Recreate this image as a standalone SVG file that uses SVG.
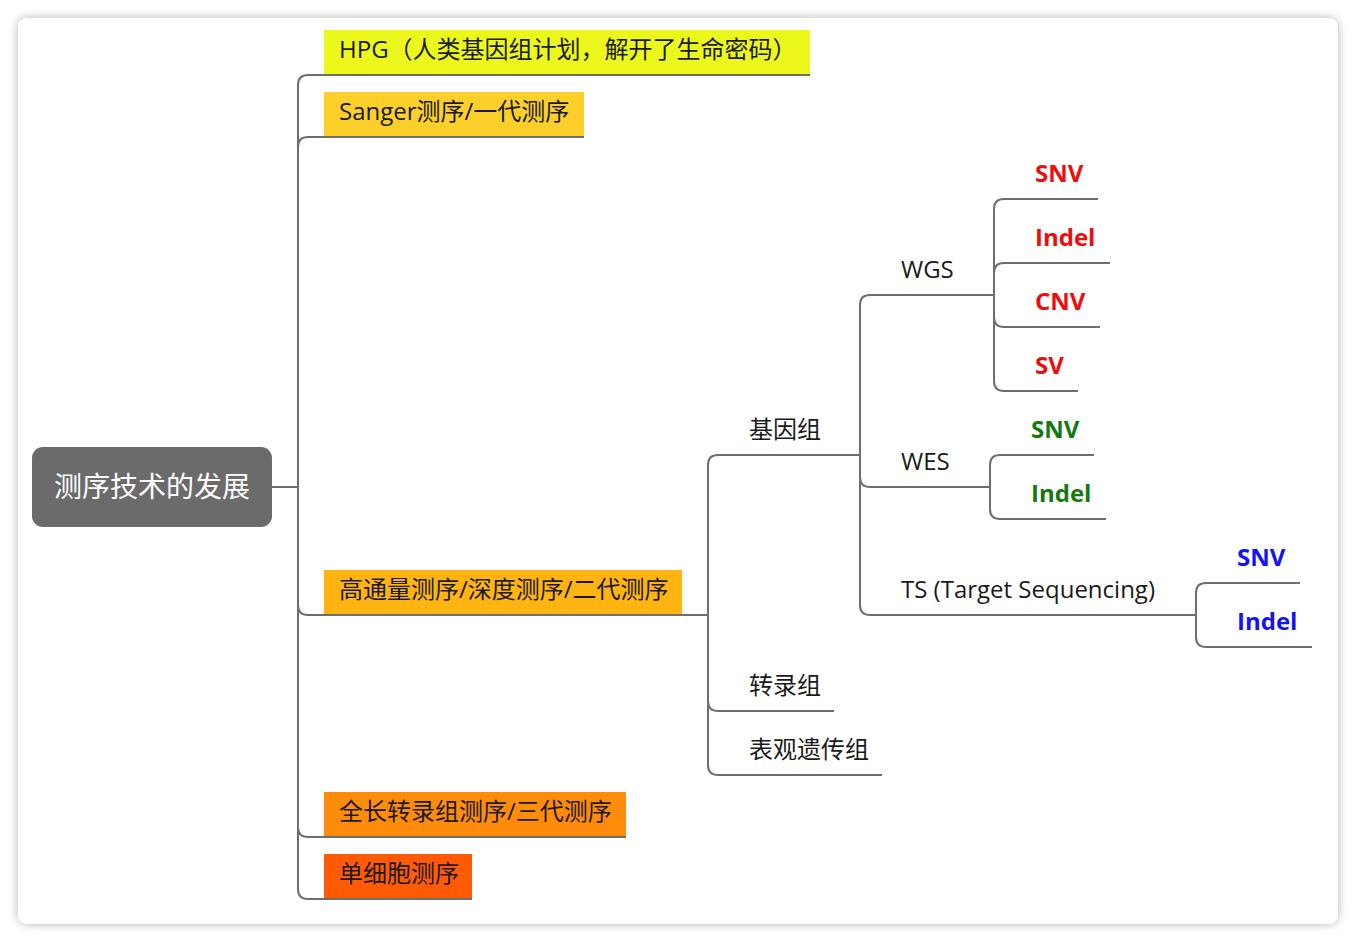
<svg xmlns="http://www.w3.org/2000/svg" width="1356" height="942" viewBox="0 0 1356 942">
<style>
text{font-family:"Open Sans","Noto Sans CJK SC",sans-serif;font-size:24px;fill:#1a1a1a}
.b{font-weight:bold}
.red{fill:#f00c0c}
.grn{fill:#137a10}
.blu{fill:#1212f5}
.root{fill:#ffffff;font-size:28px;text-anchor:middle}
.c{fill:none;stroke:#6e6e6e;stroke-width:2}
</style>
<defs>
<filter id="sh" x="-5%" y="-5%" width="110%" height="110%">
<feDropShadow dx="0" dy="0" stdDeviation="5" flood-color="#000" flood-opacity="0.3"/>
</filter>
</defs>
<rect width="1356" height="942" fill="#ffffff"/>
<rect x="18" y="18" width="1320" height="906" rx="9" fill="#ffffff" filter="url(#sh)"/>

<g id="root">
<rect x="32" y="447" width="240" height="80" rx="11" fill="#6b6b6b"/>
<text class="root" x="152" y="497">测序技术的发展</text>
</g>

<g id="n-hpg"><rect x="324" y="30" width="486" height="44" fill="#ecf71c"/><text x="339" y="58">HPG（人类基因组计划，解开了生命密码）</text></g>
<g id="n-sanger"><rect x="324" y="92" width="260" height="44" fill="#fccf2a"/><text x="339" y="120">Sanger测序/一代测序</text></g>
<g id="n-ngs"><rect x="324" y="570" width="358" height="44" fill="#ffb412"/><text x="339" y="598">高通量测序/深度测序/二代测序</text></g>
<g id="n-tgs"><rect x="324" y="792" width="302" height="44" fill="#ff8b0a"/><text x="339" y="820">全长转录组测序/三代测序</text></g>
<g id="n-sc"><rect x="324" y="854" width="148" height="44" fill="#ff5a05"/><text x="339" y="882">单细胞测序</text></g>

<g id="n-genome"><text x="749" y="438">基因组</text></g>
<g id="n-trans"><text x="749" y="694">转录组</text></g>
<g id="n-epi"><text x="749" y="758">表观遗传组</text></g>

<g id="n-wgs"><text x="901" y="278">WGS</text></g>
<g id="n-wes"><text x="901" y="470">WES</text></g>
<g id="n-ts"><text x="901" y="598">TS (Target Sequencing)</text></g>

<g id="n-wgs-snv"><text class="b red" x="1035" y="182">SNV</text></g>
<g id="n-wgs-indel"><text class="b red" x="1035" y="246">Indel</text></g>
<g id="n-wgs-cnv"><text class="b red" x="1035" y="310">CNV</text></g>
<g id="n-wgs-sv"><text class="b red" x="1035" y="374">SV</text></g>

<g id="n-wes-snv"><text class="b grn" x="1031" y="438">SNV</text></g>
<g id="n-wes-indel"><text class="b grn" x="1031" y="502">Indel</text></g>

<g id="n-ts-snv"><text class="b blu" x="1237" y="566">SNV</text></g>
<g id="n-ts-indel"><text class="b blu" x="1237" y="630">Indel</text></g>

<g id="connectors" class="c">
<path class="c" d="M272 487 H298"/>
<path class="c" d="M298 487 V85 Q298 75 308 75 H810"/>
<path class="c" d="M298 487 V147 Q298 137 308 137 H584"/>
<path class="c" d="M298 487 V605 Q298 615 308 615 H708"/>
<path class="c" d="M298 487 V827 Q298 837 308 837 H626"/>
<path class="c" d="M298 487 V889 Q298 899 308 899 H472"/>

<path class="c" d="M708 615 V465 Q708 455 718 455 H860"/>
<path class="c" d="M708 615 V701 Q708 711 718 711 H834"/>
<path class="c" d="M708 615 V765 Q708 775 718 775 H882"/>

<path class="c" d="M860 455 V305 Q860 295 870 295 H994"/>
<path class="c" d="M860 455 V477 Q860 487 870 487 H990"/>
<path class="c" d="M860 455 V605 Q860 615 870 615 H1196"/>

<path class="c" d="M994 295 V209 Q994 199 1004 199 H1098"/>
<path class="c" d="M994 295 V273 Q994 263 1004 263 H1110"/>
<path class="c" d="M994 295 V317 Q994 327 1004 327 H1100"/>
<path class="c" d="M994 295 V381 Q994 391 1004 391 H1078"/>

<path class="c" d="M990 487 V465 Q990 455 1000 455 H1094"/>
<path class="c" d="M990 487 V509 Q990 519 1000 519 H1106"/>

<path class="c" d="M1196 615 V593 Q1196 583 1206 583 H1300"/>
<path class="c" d="M1196 615 V637 Q1196 647 1206 647 H1312"/>
</g>
</svg>
